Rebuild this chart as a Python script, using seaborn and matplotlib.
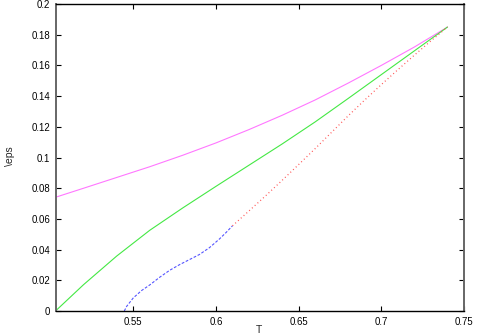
import matplotlib
matplotlib.use('Agg')
import matplotlib.pyplot as plt
import numpy as np
import pandas as pd
import seaborn as sns

# %% data
t_magenta = [0.503, 0.52, 0.54, 0.56, 0.58, 0.60, 0.62, 0.64, 0.66, 0.68, 0.70, 0.72, 0.74]
eps_magenta = [0.0741, 0.0800, 0.0870, 0.0940, 0.1015, 0.1095, 0.1182, 0.1275, 0.1375, 0.1485, 0.1600, 0.1720, 0.1850]

t_green = [0.503, 0.52, 0.54, 0.56, 0.58, 0.60, 0.62, 0.64, 0.66, 0.68, 0.70, 0.72, 0.74]
eps_green = [0.0, 0.0172, 0.0358, 0.0526, 0.0672, 0.0812, 0.0950, 0.1088, 0.1232, 0.1385, 0.1540, 0.1695, 0.1850]

t_blue = [0.5446, 0.546, 0.55, 0.555, 0.56, 0.566, 0.572, 0.578, 0.584, 0.59, 0.596, 0.602, 0.606, 0.610]
eps_blue = [0.0, 0.003, 0.0085, 0.0133, 0.0170, 0.0220, 0.0265, 0.0302, 0.0335, 0.0368, 0.0412, 0.0468, 0.0510, 0.0555]

t_red = [0.61, 0.62, 0.63, 0.64, 0.65, 0.66, 0.67, 0.68, 0.69, 0.70, 0.71, 0.72, 0.73, 0.74]
eps_red = [0.0555, 0.0652, 0.0750, 0.0851, 0.0954, 0.1058, 0.1165, 0.1272, 0.1375, 0.1475, 0.1572, 0.1667, 0.1760, 0.1850]

x_ticks = [0.55, 0.6, 0.65, 0.7, 0.75]
x_ticklabels = ['0.55', '0.6', '0.65', '0.7', '0.75']
y_ticks = [0, 0.02, 0.04, 0.06, 0.08, 0.1, 0.12, 0.14, 0.16, 0.18, 0.2]
y_ticklabels = ['0', '0.02', '0.04', '0.06', '0.08', '0.1', '0.12', '0.14', '0.16', '0.18', '0.2']

# %% plot
sns.set_style('ticks')
plt.rcParams['font.family'] = ['Liberation Sans', 'DejaVu Sans']

fig = plt.figure(figsize=(4.79, 3.35), dpi=100)
ax = fig.add_axes([0.1169, 0.0716, 0.8518, 0.9164])

sns.lineplot(x=t_magenta, y=eps_magenta, color='#ff77ff', lw=0.8, ax=ax)
sns.lineplot(x=t_green, y=eps_green, color='#44e844', lw=0.8, ax=ax)
sns.lineplot(x=t_blue, y=eps_blue, color='#5555ff', lw=0.8, ax=ax,
             linestyle=(0, (2.5, 1.5)))
sns.lineplot(x=t_red, y=eps_red, color='#ff5555', lw=0.9, ax=ax,
             linestyle=(0, (0.8, 2.2)))

ax.set_xlim(0.5033, 0.75)
ax.set_ylim(0, 0.2)
ax.set_xticks(x_ticks)
ax.set_xticklabels(x_ticklabels)
ax.set_yticks(y_ticks)
ax.set_yticklabels(y_ticklabels)
ax.tick_params(direction='in', length=3.5, width=0.8, labelsize=6.9,
               top=True, right=True, pad=4, colors='black')

for side in ['top', 'bottom']:
    ax.spines[side].set_color('black')
    ax.spines[side].set_linewidth(1.0)
for side in ['left', 'right']:
    ax.spines[side].set_color('#666666')
    ax.spines[side].set_linewidth(1.4)

ax.set_xlabel('T', fontsize=7.5)
ax.set_ylabel('\\eps', fontsize=7.5)
ax.xaxis.set_label_coords(0.4975, -0.045)
ax.yaxis.set_label_coords(-0.113, 0.505)
ax.yaxis.label.set_va('center')

fig.savefig('out.png', dpi=100)
